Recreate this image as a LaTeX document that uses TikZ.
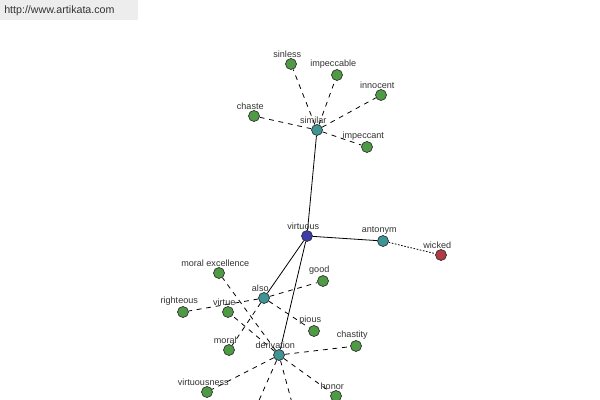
\documentclass[tikz,border=0pt]{standalone}
\usepackage{fontspec}
\setmainfont{Liberation Sans}
\usetikzlibrary{backgrounds}
\definecolor{gWord}{HTML}{4E9A45}
\definecolor{gRel}{HTML}{3F9494}
\definecolor{gHead}{HTML}{3C3CA8}
\definecolor{gAnt}{HTML}{B03A46}
\definecolor{rim}{HTML}{2E2E2E}
\definecolor{txtgray}{HTML}{333333}
\definecolor{markbg}{HTML}{EDEDED}

\begin{document}
\begin{tikzpicture}[x=0.75pt,y=-0.75pt,
  dot/.style={circle,draw=rim,line width=0.5pt,inner sep=0pt,minimum size=8.25pt},
  word/.style={dot,fill=gWord},
  rel/.style={dot,fill=gRel},
  lbl/.style={font=\fontsize{6.8}{7}\selectfont,text=txtgray,inner sep=0.5pt,xshift=-2.8pt},
  link/.style={line width=0.6pt},
  syn/.style={link,dash pattern=on 3.6pt off 3.6pt},
  ant/.style={link,dash pattern=on 1.2pt off 1.2pt}]
\path[use as bounding box] (0,0) rectangle (600,400);
\clip (0,0) rectangle (600,400);
% watermark
\fill[markbg] (0,0) rectangle (138,20);
\node[anchor=west,font=\fontsize{8}{9}\selectfont,text=txtgray,inner sep=0pt] (site) at (4,11) {http://www.artikata.com};
% head word and relations
\node[dot,fill=gHead,label={[lbl]above:virtuous}] (virtuous) at (307,236) {};
\node[rel,label={[lbl]above:similar}] (similar) at (317,130) {};
\node[rel,label={[lbl]above:antonym}] (antonym) at (383,241) {};
\node[rel,label={[lbl]above:also}] (also) at (264,298) {};
\node[rel,label={[lbl]above:derivation}] (deriv) at (279,355) {};
\node[dot,fill=gAnt,label={[lbl]above:wicked}] (wicked) at (441,255) {};
% similar words
\node[word,label={[lbl]above:sinless}] (sinless) at (291,64) {};
\node[word,label={[lbl]above:impeccable}] (impeccable) at (337,75) {};
\node[word,label={[lbl]above:innocent}] (innocent) at (381,95) {};
\node[word,label={[lbl]above:chaste}] (chaste) at (254,116) {};
\node[word,label={[lbl]above:impeccant}] (impeccant) at (367,147) {};
% see also
\node[word,label={[lbl]above:good}] (good) at (323,281) {};
\node[word,label={[lbl]above:righteous}] (righteous) at (183,312) {};
\node[word,label={[lbl]above:pious}] (pious) at (314,331) {};
\node[word,label={[lbl]above:moral}] (moral) at (229,350) {};
% derived forms (last two fall below the frame)
\node[word,label={[lbl]above:moral excellence}] (moralex) at (219,273) {};
\node[word,label={[lbl]above:virtue}] (virtue) at (228,312) {};
\node[word,label={[lbl]above:chastity}] (chastity) at (356,346) {};
\node[word,label={[lbl]above:virtuousness}] (virtuousness) at (207,392) {};
\node[word,label={[lbl]above:honor}] (honor) at (336,396) {};
\node[word] (offa) at (253,414) {};
\node[word] (offb) at (295,414) {};
\begin{scope}[on background layer]
\fill[white] (0,20) rectangle (600,400);
\draw[link] (virtuous) -- (similar);
\draw[link] (virtuous) -- (antonym);
\draw[link] (virtuous) -- (also);
\draw[link] (virtuous) -- (deriv);
\draw[ant] (antonym) -- (wicked);
\foreach \w in {sinless,impeccable,innocent,chaste,impeccant}
  \draw[syn] (similar) -- (\w);
\foreach \w in {good,righteous,pious,moral}
  \draw[syn] (also) -- (\w);
\foreach \w in {moralex,virtue,chastity,virtuousness,honor,offa,offb}
  \draw[syn] (deriv) -- (\w);
\end{scope}
\end{tikzpicture}
\end{document}
